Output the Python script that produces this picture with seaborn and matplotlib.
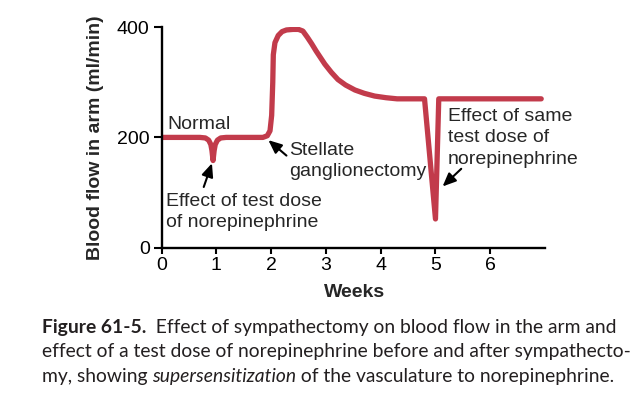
import matplotlib
matplotlib.use("Agg")
import matplotlib.pyplot as plt
import seaborn as sns

# curve (weeks, ml/min)
weeks = [0.00, 0.70, 0.80, 0.86, 0.90, 0.92, 0.94, 0.96, 0.98, 1.02, 1.08, 1.18,
         1.85, 1.93, 1.98, 2.01, 2.03, 2.04, 2.07, 2.13, 2.20, 2.28, 2.40, 2.50,
         2.58, 2.66, 2.74, 2.82, 2.90, 2.98, 3.10, 3.22, 3.36, 3.53, 3.70, 3.89,
         4.10, 4.30, 4.80, 5.00, 5.06, 6.93]
flow = [200, 200, 199, 195, 187, 176, 158, 176, 187, 195, 199, 200,
        200, 203, 212, 240, 300, 350, 372, 385, 392, 395, 396, 396,
        393, 382, 370, 357, 345, 333, 318, 305, 295, 286, 280, 275,
        272, 270, 270, 52, 270, 270]

xticks = [0, 1, 2, 3, 4, 5, 6]
yticks = [0, 200, 400]

line_color = "#C23B4B"

sns.set_style("ticks")
plt.rcParams["font.family"] = ["Liberation Sans", "DejaVu Sans"]

fig = plt.figure(figsize=(6.36, 4.0), dpi=100)
ax = fig.add_axes([0.254, 0.381, 0.603, 0.551])

sns.lineplot(x=weeks, y=flow, ax=ax, color=line_color, lw=3.8,
             estimator=None, sort=False, solid_joinstyle="round",
             solid_capstyle="round")

ax.set_xlim(0, 7)
ax.set_ylim(0, 400)
ax.set_xticks(xticks)
ax.set_yticks(yticks)
ax.tick_params(labelsize=14, width=1.5, colors="black")
ax.tick_params(axis="y", length=6, pad=2.5)
ax.tick_params(axis="x", length=4, pad=3)
for s in ["top", "right"]:
    ax.spines[s].set_visible(False)
for s in ["left", "bottom"]:
    ax.spines[s].set_linewidth(1.7)
    ax.spines[s].set_color("black")

ax.set_xlabel("Weeks", fontsize=14, fontweight="bold", va="center")
ax.xaxis.set_label_coords(0.502, -0.205)
ax.set_ylabel("Blood flow in arm (ml/min)", fontsize=14, fontweight="bold",
              va="center")
ax.yaxis.set_label_coords(-0.173, 0.5)

arrow = dict(arrowstyle="-|>,head_length=0.8,head_width=0.35",
             color="black", lw=1.5, shrinkA=0, shrinkB=0)
fs = 14
ls = 1.32
ax.text(0.11, 216, "Normal", fontsize=fs, va="baseline")
ax.text(2.32, 192, "Stellate\nganglionectomy", fontsize=fs, va="top",
        linespacing=ls)
ax.annotate("", xy=(1.95, 195), xytext=(2.28, 167), arrowprops=arrow)
ax.text(0.08, 99, "Effect of test dose\nof norepinephrine", fontsize=fs,
        va="top", linespacing=ls)
ax.annotate("", xy=(0.92, 153), xytext=(0.77, 110), arrowprops=arrow)
ax.text(5.22, 253, "Effect of same\ntest dose of\nnorepinephrine", fontsize=fs,
        va="top", linespacing=ls)
ax.annotate("", xy=(5.13, 111), xytext=(5.47, 143), arrowprops=arrow)

# caption
cap = dict(fontsize=13.9, family=["Lato", "DejaVu Sans"], color="#231F20")
W, H = 636.0, 400.0
t = fig.text(42 / W, 1 - 333 / H, "Figure 61-5.", fontweight="bold",
             va="baseline", **cap)
ax.annotate("  Effect of sympathectomy on blood flow in the arm and",
            xy=(1, 0), xycoords=t, va="bottom", annotation_clip=False, **cap)
fig.text(42 / W, 1 - 357.5 / H,
         "effect of a test dose of norepinephrine before and after sympathecto-",
         va="baseline", **cap)
t3 = fig.text(42 / W, 1 - 382 / H, "my, showing ", va="baseline", **cap)
t4 = ax.annotate("supersensitization", xy=(1, 0), xycoords=t3, va="bottom",
                 style="italic", annotation_clip=False, **cap)
ax.annotate(" of the vasculature to norepinephrine.", xy=(1, 0), xycoords=t4,
            va="bottom", annotation_clip=False, **cap)

fig.savefig("out.png", dpi=100)
